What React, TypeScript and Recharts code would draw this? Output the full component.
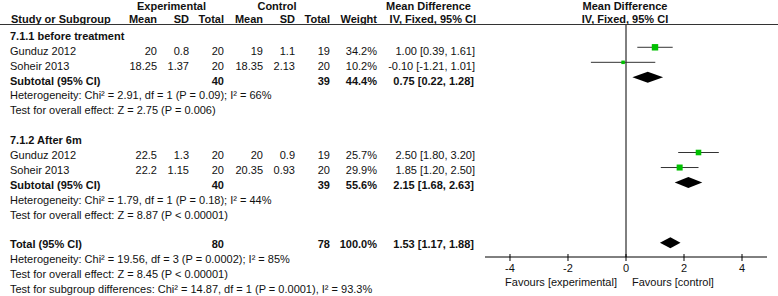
import React from 'react';
import { ComposedChart, Scatter, XAxis, YAxis, ReferenceLine } from 'recharts';

// study level data (two subgroups)
const groupTitles = ['7.1.1 before treatment', '7.1.2 After 6m'];
const studyNames = ['Gunduz 2012', 'Soheir 2013', 'Gunduz 2012', 'Soheir 2013'];
const studyGroup = [0, 0, 1, 1];
const expMean = ['20', '18.25', '22.5', '22.2'];
const expSd = ['0.8', '1.37', '1.3', '1.15'];
const expTotal = [20, 20, 20, 20];
const ctlMean = ['19', '18.35', '20', '20.35'];
const ctlSd = ['1.1', '2.13', '0.9', '0.93'];
const ctlTotal = [19, 20, 19, 20];
const weights = [34.2, 10.2, 25.7, 29.9];
const meanDiff = [1.0, -0.1, 2.5, 1.85];
const ciLow = [0.39, -1.21, 1.8, 1.2];
const ciHigh = [1.61, 1.01, 3.2, 2.5];

// pooled estimates: subtotal 1, subtotal 2, total
const pooledLabels = ['Subtotal (95% CI)', 'Subtotal (95% CI)', 'Total (95% CI)'];
const pooledExpN = [40, 40, 80];
const pooledCtlN = [39, 39, 78];
const pooledWeight = [44.4, 55.6, 100.0];
const pooledMd = [0.75, 2.15, 1.53];
const pooledLow = [0.22, 1.68, 1.17];
const pooledHigh = [1.28, 2.63, 1.88];
const heterogeneity = [
  'Heterogeneity: Chi² = 2.91, df = 1 (P = 0.09); I² = 66%',
  'Heterogeneity: Chi² = 1.79, df = 1 (P = 0.18); I² = 44%',
  'Heterogeneity: Chi² = 19.56, df = 3 (P = 0.0002); I² = 85%',
];
const overallEffect = [
  'Test for overall effect: Z = 2.75 (P = 0.006)',
  'Test for overall effect: Z = 8.87 (P < 0.00001)',
  'Test for overall effect: Z = 8.45 (P < 0.00001)',
];
const subgroupTest = 'Test for subgroup differences: Chi² = 14.87, df = 1 (P = 0.0001), I² = 93.3%';

const xTicks = [-4, -2, 0, 2, 4];
const xDomain = [-4.862, 4.862];
const favourLabels = ['Favours [experimental]', 'Favours [control]'];

const W = 778;
const H = 296;
const FONT = '"Liberation Sans", Arial, sans-serif';
const GREEN = '#00c000';
const INK = '#111';

// row layout: text baseline and y domain of the plot (in row units)
const baseline = (r: number) => 10 + 14.9 * r;
const yDomain = [-2.2 / 15.03, (257 - 2.2) / 15.03];

const col = { name: 10, expMean: 157, expSd: 189, expTotal: 224, ctlMean: 263, ctlSd: 295, ctlTotal: 330, weight: 377, ci: 475 };

const fmtCi = (m: number, l: number, h: number) => `${m.toFixed(2)} [${l.toFixed(2)}, ${h.toFixed(2)}]`;

// assign rows
const studyRows: number[] = [];
const groupRows: number[] = [];
const pooledRows: number[] = [];
{
  let r = 2;
  groupTitles.forEach((_, g) => {
    groupRows.push(r);
    r += 1;
    studyNames.forEach((__, i) => {
      if (studyGroup[i] === g) {
        studyRows[i] = r;
        r += 1;
      }
    });
    pooledRows.push(r);
    r += 4;
  });
  pooledRows.push(r);
}

const squareData = studyNames.map((_, i) => ({ md: meanDiff[i], row: studyRows[i], weight: weights[i] }));

const T = ({ x, r, children, anchor = 'start', bold = false, y }: any) => (
  <text
    x={x}
    y={y !== undefined ? y : baseline(r)}
    textAnchor={anchor}
    fontWeight={bold ? 'bold' : 'normal'}
    fontSize={11}
    fontFamily={FONT}
    fill={INK}
  >
    {children}
  </text>
);

const AxisTick = ({ x, y, payload }: any) => (
  <g>
    <line x1={x} x2={x} y1={y - 9} y2={y - 2} stroke="#000" />
    <text x={x} y={y + 8.5} textAnchor="middle" fontSize={11} fontFamily={FONT} fill={INK}>
      {payload.value}
    </text>
  </g>
);

const Diamond = (props: any) => {
  const { x1, x2, y1, frac } = props;
  const cx = x1 + frac * (x2 - x1);
  const h = 5.5;
  return <polygon points={`${x1},${y1} ${cx},${y1 - h} ${x2},${y1} ${cx},${y1 + h}`} fill="#000" />;
};

const Square = (props: any) => {
  const { cx, cy, payload } = props;
  const s = 1.1 * Math.sqrt(payload.weight);
  return <rect x={cx - s / 2} y={cy - s / 2} width={s} height={s} fill={GREEN} />;
};

const App: React.FC = () => {
  const totalRow = pooledRows[2];
  return (
    <div style={{ position: 'fixed', left: 0, top: 0, width: W, height: H, background: '#fff' }}>
      <div style={{ position: 'absolute', left: 0, top: 0 }}>
        <ComposedChart width={W} height={H} margin={{ top: 0, right: 11, left: 485, bottom: 0 }}>
          <XAxis
            type="number"
            dataKey="md"
            domain={xDomain}
            ticks={xTicks}
            interval={0}
            allowDataOverflow
            height={39}
            tickSize={4}
            tickLine={false}
            axisLine={{ stroke: '#000' }}
            tick={<AxisTick />}
          />
          <YAxis type="number" dataKey="row" domain={yDomain} reversed hide allowDataOverflow />
          <ReferenceLine segment={[{ x: 0, y: 1.45 }, { x: 0, y: yDomain[1] }]} stroke="#000" />
          {studyNames.map((_, i) => (
            <ReferenceLine
              key={`ci${i}`}
              segment={[{ x: ciLow[i], y: studyRows[i] }, { x: ciHigh[i], y: studyRows[i] }]}
              stroke="#333"
            />
          ))}
          {pooledMd.map((m, i) => (
            <ReferenceLine
              key={`dm${i}`}
              segment={[{ x: pooledLow[i], y: pooledRows[i] }, { x: pooledHigh[i], y: pooledRows[i] }]}
              shape={(p: any) => <Diamond {...p} frac={(m - pooledLow[i]) / (pooledHigh[i] - pooledLow[i])} />}
            />
          ))}
          <Scatter data={squareData} dataKey="row" shape={<Square />} isAnimationActive={false} />
        </ComposedChart>
      </div>
      <svg width={W} height={H} style={{ position: 'absolute', left: 0, top: 0, pointerEvents: 'none' }}>
        {/* header */}
        <T x={171.5} y={9.5} anchor="middle" bold>Experimental</T>
        <T x={277} y={9.5} anchor="middle" bold>Control</T>
        <T x={471} y={9.5} anchor="end" bold>Mean Difference</T>
        <T x={625} y={9.5} anchor="middle" bold>Mean Difference</T>
        <T x={11} y={23} bold>Study or Subgroup</T>
        <T x={col.expMean} y={23} anchor="end" bold>Mean</T>
        <T x={col.expSd} y={23} anchor="end" bold>SD</T>
        <T x={col.expTotal} y={23} anchor="end" bold>Total</T>
        <T x={col.ctlMean} y={23} anchor="end" bold>Mean</T>
        <T x={col.ctlSd} y={23} anchor="end" bold>SD</T>
        <T x={col.ctlTotal} y={23} anchor="end" bold>Total</T>
        <T x={col.weight} y={23} anchor="end" bold>Weight</T>
        <T x={476} y={23} anchor="end" bold>IV, Fixed, 95% CI</T>
        <T x={625} y={23} anchor="middle" bold>IV, Fixed, 95% CI</T>
        <line x1={0} x2={W} y1={24.5} y2={24.5} stroke="#333" />

        {groupTitles.map((g, i) => (
          <T key={`g${i}`} x={col.name} r={groupRows[i]} bold>{g}</T>
        ))}

        {studyNames.map((n, i) => (
          <g key={`s${i}`}>
            <T x={col.name} r={studyRows[i]}>{n}</T>
            <T x={col.expMean} r={studyRows[i]} anchor="end">{expMean[i]}</T>
            <T x={col.expSd} r={studyRows[i]} anchor="end">{expSd[i]}</T>
            <T x={col.expTotal} r={studyRows[i]} anchor="end">{expTotal[i]}</T>
            <T x={col.ctlMean} r={studyRows[i]} anchor="end">{ctlMean[i]}</T>
            <T x={col.ctlSd} r={studyRows[i]} anchor="end">{ctlSd[i]}</T>
            <T x={col.ctlTotal} r={studyRows[i]} anchor="end">{ctlTotal[i]}</T>
            <T x={col.weight} r={studyRows[i]} anchor="end">{weights[i].toFixed(1)}%</T>
            <T x={col.ci} r={studyRows[i]} anchor="end">{fmtCi(meanDiff[i], ciLow[i], ciHigh[i])}</T>
          </g>
        ))}

        {pooledLabels.map((lab, i) => (
          <g key={`p${i}`}>
            <T x={col.name} r={pooledRows[i]} bold>{lab}</T>
            <T x={col.expTotal} r={pooledRows[i]} anchor="end" bold>{pooledExpN[i]}</T>
            <T x={col.ctlTotal} r={pooledRows[i]} anchor="end" bold>{pooledCtlN[i]}</T>
            <T x={col.weight} r={pooledRows[i]} anchor="end" bold>{pooledWeight[i].toFixed(1)}%</T>
            <T x={col.ci - 1} r={pooledRows[i]} anchor="end" bold>{fmtCi(pooledMd[i], pooledLow[i], pooledHigh[i])}</T>
            <T x={col.name} r={pooledRows[i] + 1}>{heterogeneity[i]}</T>
            <T x={col.name} r={pooledRows[i] + 2}>{overallEffect[i]}</T>
          </g>
        ))}
        <T x={col.name} r={totalRow + 3}>{subgroupTest}</T>

        <T x={617} y={286} anchor="end">{favourLabels[0]}</T>
        <T x={632} y={286}>{favourLabels[1]}</T>
      </svg>
    </div>
  );
};

export default App;
